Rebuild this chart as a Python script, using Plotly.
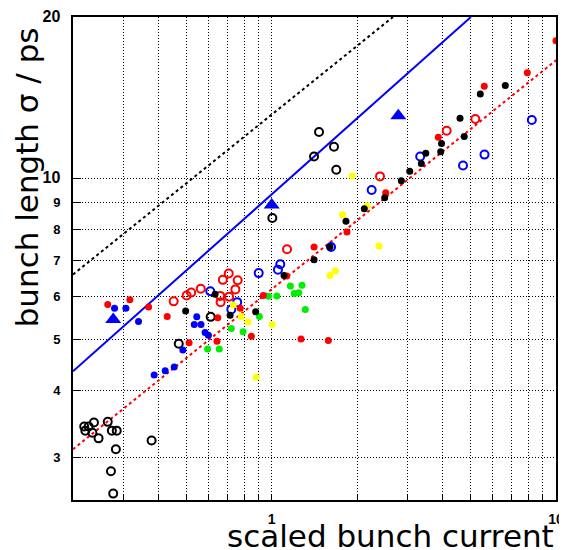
import plotly.graph_objects as go

# ---- data ----
black_open_x = [0.219, 0.221, 0.227, 0.237, 0.234, 0.246, 0.265, 0.274, 0.285, 0.283, 0.378, 0.272, 0.277,
                0.471, 0.610, 1.005, 1.409, 1.467, 1.656, 1.687]
black_open_y = [3.43, 3.37, 3.43, 3.49, 3.34, 3.26, 3.50, 3.37, 3.37, 3.11, 3.23, 2.83, 2.57,
                4.90, 5.50, 8.42, 10.97, 12.19, 11.44, 10.36]

black_fill_x = [0.498, 0.632, 0.714, 0.878, 1.105, 1.409, 1.603, 1.825, 2.117, 2.497, 2.857, 3.058, 3.359,
                3.483, 3.930, 3.956, 4.597, 4.756, 5.416, 6.632]
black_fill_y = [5.64, 6.06, 5.54, 5.62, 6.57, 7.03, 7.44, 8.30, 8.76, 9.19, 9.88, 10.30, 10.65,
                11.13, 11.20, 11.60, 12.94, 11.96, 14.35, 14.89]

red_fill_x = [0.265, 0.317, 0.369, 0.429, 0.512, 0.642, 0.646, 0.775, 0.848, 0.934, 1.129, 1.268, 1.582,
              1.409, 1.840, 2.518, 3.855, 5.595, 7.926, 10.0]
red_fill_y = [5.80, 5.92, 5.74, 5.51, 4.92, 4.95, 5.48, 5.71, 5.06, 6.03, 6.56, 5.00, 4.97,
              7.43, 7.93, 9.38, 11.92, 14.85, 15.73, 18.05]

red_open_x = [0.452, 0.502, 0.521, 0.563, 0.659, 0.661, 0.673, 0.706, 0.759, 0.745, 0.708, 1.132, 2.404,
              4.126, 5.202]
red_open_y = [5.88, 6.03, 6.11, 6.21, 6.02, 5.86, 6.45, 6.63, 6.44, 6.19, 6.00, 7.36, 10.07,
              12.26, 12.89]

blue_fill_x = [0.280, 0.307, 0.340, 0.386, 0.422, 0.454, 0.487, 0.545, 0.534, 0.564, 0.583, 0.599]
blue_fill_y = [5.71, 5.71, 5.39, 4.28, 4.36, 4.43, 4.77, 5.50, 5.32, 5.32, 5.14, 5.08]

blue_open_x = [0.608, 0.721, 0.756, 0.900, 1.052, 1.072, 1.617, 2.247, 3.329, 4.709, 5.604, 8.222]
blue_open_y = [6.14, 5.68, 5.86, 6.64, 6.74, 6.90, 7.43, 9.50, 10.97, 10.55, 11.06, 12.84]

yellow_x = [0.733, 0.781, 0.825, 0.881, 1.004, 1.603, 1.674, 1.775, 1.920, 2.163, 2.385]
yellow_y = [5.79, 5.51, 5.38, 4.24, 5.32, 6.57, 6.71, 8.54, 10.09, 8.87, 7.46]

green_x = [0.595, 0.654, 0.721, 0.793, 0.905, 0.974, 1.042, 1.163, 1.278, 1.200, 1.245, 1.313]
green_y = [4.79, 4.79, 5.23, 5.16, 5.51, 6.01, 6.02, 6.28, 6.30, 6.08, 6.10, 5.68]

triangle_x = [0.277, 1.0, 2.788]
triangle_y = [5.44, 8.90, 13.07]

black_line_x = [0.2, 2.67]
black_line_y = [6.6, 20.0]
blue_line_x = [0.2, 5.02]
blue_line_y = [4.35, 20.0]
red_line_x = [0.2, 10.0]
red_line_y = [3.11, 16.6]

x_tickvals = [0.3, 0.4, 0.5, 0.6, 0.7, 0.8, 0.9, 1, 2, 3, 4, 5, 6, 7, 8, 9, 10]
x_ticktext = ["", "", "", "", "", "", "", "1", "", "", "", "", "", "", "", "", "10"]
y_tickvals = [3, 4, 5, 6, 7, 8, 9, 10, 20]
y_ticktext = ["3", "4", "5", "6", "7", "8", "9", "10", "20"]

# ---- figure ----
fig = go.Figure()

fig.add_trace(go.Scatter(x=black_line_x, y=black_line_y, mode="lines",
                         line=dict(color="black", width=2, dash="dot")))
fig.add_trace(go.Scatter(x=blue_line_x, y=blue_line_y, mode="lines",
                         line=dict(color="#0000ff", width=2)))
fig.add_trace(go.Scatter(x=red_line_x, y=red_line_y, mode="lines",
                         line=dict(color="#ff0000", width=2, dash="dot")))

def filled(x, y, c):
    fig.add_trace(go.Scatter(x=x, y=y, mode="markers",
                             marker=dict(symbol="circle", size=7, color=c, line=dict(width=0))))

def opened(x, y, c):
    fig.add_trace(go.Scatter(x=x, y=y, mode="markers",
                             marker=dict(symbol="circle-open", size=8, color=c, line=dict(width=2, color=c))))

opened(black_open_x, black_open_y, "black")
opened(red_open_x, red_open_y, "#ff0000")
opened(blue_open_x, blue_open_y, "#0000ff")
filled(blue_fill_x, blue_fill_y, "#0000ff")
filled(green_x, green_y, "#00ee00")
filled(yellow_x, yellow_y, "#ffff00")
filled(red_fill_x, red_fill_y, "#ff0000")
filled(black_fill_x, black_fill_y, "black")

fig.add_trace(go.Scatter(x=triangle_x, y=triangle_y, mode="markers",
                         marker=dict(symbol="triangle-up", size=14, color="#0000ff", line=dict(width=0))))

# two-digit labels are drawn a little larger in the reference
y_ticktext_styled = [t if len(t) == 1 else '<span style="font-size:16px">%s</span>' % t for t in y_ticktext]

tickfont = dict(family="Liberation Sans", size=13, color="black", weight="bold")
xtickfont = dict(family="Liberation Sans", size=14, color="black", weight="bold")

fig.update_xaxes(type="log", range=[-0.69897, 1.0], automargin=False,
                 tickvals=x_tickvals, ticktext=x_ticktext, ticklabeloverflow="allow",
                 ticks="inside", ticklen=6, tickwidth=1, tickcolor="black",
                 showgrid=True, gridcolor="black", gridwidth=1, griddash="1px,2px",
                 showline=True, linecolor="black", linewidth=2, mirror=True,
                 zeroline=False, tickfont=xtickfont, ticklabelstandoff=5)
fig.update_yaxes(type="log", range=[0.39794, 1.30105], automargin=False,
                 tickvals=y_tickvals, ticktext=y_ticktext_styled, ticklabeloverflow="allow",
                 ticks="inside", ticklen=8, tickwidth=1, tickcolor="black",
                 showgrid=True, gridcolor="black", gridwidth=1, griddash="1px,2px",
                 showline=True, linecolor="black", linewidth=2, mirror=True,
                 zeroline=False, tickfont=tickfont, ticklabelstandoff=8)

fig.add_annotation(text="bunch length σ / ps", xref="paper", yref="paper",
                   x=-0.095, y=0.983, xanchor="center", yanchor="top", textangle=-90,
                   showarrow=False, font=dict(family="DejaVu Sans", size=31, color="black"))
fig.add_annotation(text="scaled bunch current", xref="paper", yref="paper",
                   x=1.0, y=-0.074, xanchor="right", yanchor="middle",
                   showarrow=False, font=dict(family="DejaVu Sans", size=31, color="black"))

# the page body adds an 8px offset; shrink the figure so that it fills the 567x550 window
fig.update_layout(width=559, height=542, showlegend=False,
                  margin=dict(l=65, r=11, t=9, b=50, autoexpand=False),
                  paper_bgcolor="white", plot_bgcolor="white")

fig.write_html("out.html")
